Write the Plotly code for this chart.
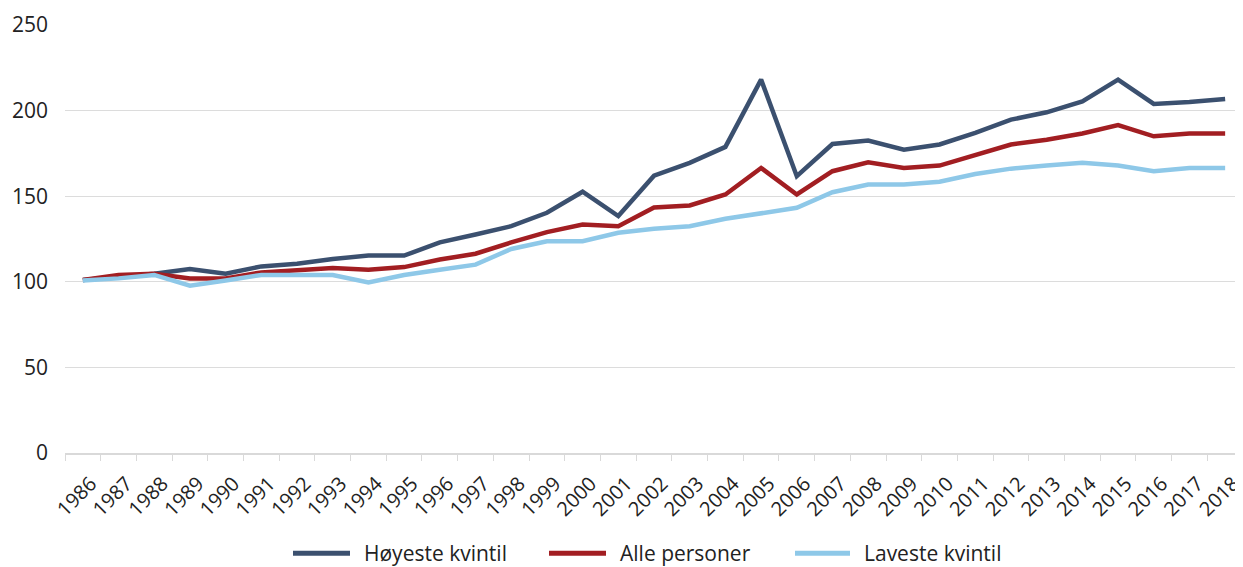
import plotly.graph_objects as go

years = [str(y) for y in range(1986, 2019)]

hoyeste = [101, 103, 104.7, 107.4, 104.7, 109, 110.6, 113.3, 115.3, 115.3,
           123, 127.6, 132.5, 140.3, 152.6, 138.4, 162, 169.5, 178.8, 218.1,
           161.7, 180.5, 182.5, 177.2, 180.2, 187, 194.7, 199, 205.4, 218.1,
           203.9, 205, 206.8]
alle = [101, 104, 104.7, 102, 102, 105.5, 106.7, 108, 107, 108.6,
        113, 116.4, 123, 129, 133.5, 132.5, 143.4, 144.6, 151, 166.5,
        151, 164.6, 169.8, 166.5, 167.9, 174.3, 180.2, 183, 186.6, 191.6,
        185, 186.6, 186.6]
laveste = [100.8, 102, 104, 97.7, 100.8, 104, 104, 104, 99.6, 104,
           107, 110, 119.2, 123.7, 123.7, 128.6, 131, 132.5, 136.8, 140.3,
           143.2, 152.3, 156.8, 156.8, 158.4, 163, 166.1, 167.9, 169.5, 167.9,
           164.6, 166.5, 166.5]

names = ["Høyeste kvintil", "Alle personer", "Laveste kvintil"]
colors = ["#3B506F", "#A21E22", "#8EC8E8"]
series = [hoyeste, alle, laveste]

FONT = "Open Sans"

fig = go.Figure()
for name, vals, col in zip(names, series, colors):
    fig.add_trace(go.Scatter(x=years, y=vals, mode="lines", name=name,
                             line=dict(color=col, width=4.5), showlegend=False))

# custom legend (longer line samples than plotly draws)
# page body has an 8px margin, so the figure is made 8px smaller
leg_y = -0.234
leg_lines = [(293, 350), (549, 606), (795, 850)]
for (x0, x1), name, col in zip(leg_lines, names, colors):
    fig.add_shape(type="line", xref="paper", yref="paper",
                  x0=(x0 - 65) / 1178, x1=(x1 - 65) / 1178, y0=leg_y, y1=leg_y,
                  line=dict(color=col, width=5))
    fig.add_annotation(xref="paper", yref="paper", x=(x1 + 13 - 65) / 1178, y=leg_y,
                       text=name, showarrow=False, xanchor="left", yanchor="middle",
                       borderpad=0, font=dict(family=FONT, size=21, color="#222"))

fig.update_layout(
    width=1235, height=559,
    margin=dict(l=57, r=0, t=17, b=114),
    plot_bgcolor="white", paper_bgcolor="white",
    font=dict(family=FONT, color="#222"),
)
fig.update_xaxes(type="category", range=[-0.5, 32.5], tickson="boundaries",
                 ticks="outside", ticklen=6, tickcolor="#D9D9D9",
                 showline=True, linecolor="#D9D9D9", linewidth=2,
                 showgrid=False, tickangle=-45, tickfont=dict(size=20, family=FONT),
                 ticklabelstandoff=9, ticklabelshift=8)
fig.update_yaxes(range=[0, 250], dtick=50, showgrid=True, gridcolor="#DCDCDC", gridwidth=1,
                 zeroline=False, ticks="", tickfont=dict(size=21, family=FONT),
                 ticklabelstandoff=16)

fig.write_html("out.html")
